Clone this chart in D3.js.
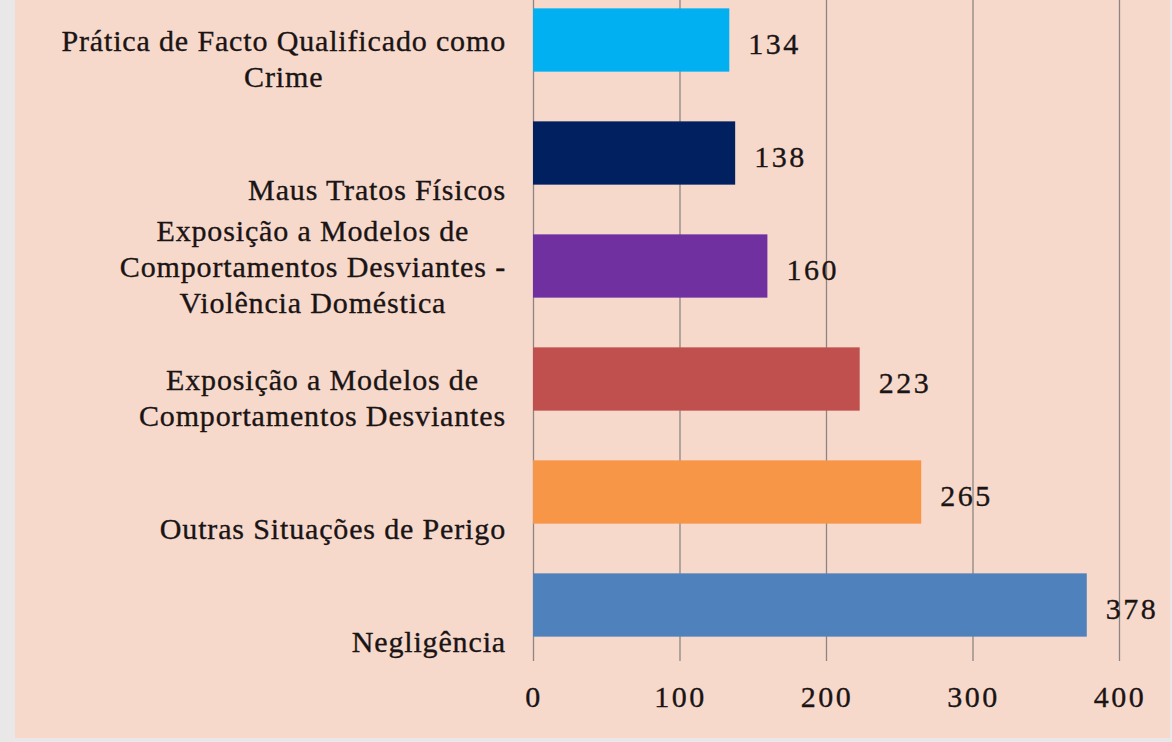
<!DOCTYPE html>
<html><head><meta charset="utf-8">
<script src="https://cdn.jsdelivr.net/npm/d3@7"></script>
<style>
html,body{margin:0;padding:0;background:#e9e7e7;overflow:hidden;}
svg{display:block;}
</style></head>
<body>
<script>
const categories = [
  ["Prática de Facto Qualificado como", "Crime"],
  ["Maus Tratos Físicos"],
  ["Exposição a Modelos de", "Comportamentos Desviantes -", "Violência Doméstica"],
  ["Exposição a Modelos de", "Comportamentos Desviantes"],
  ["Outras Situações de Perigo"],
  ["Negligência"]
];
const values = [134, 138, 160, 223, 265, 378];
const colors = ["#00b0f0", "#002060", "#7030a0", "#c0504d", "#f79646", "#4f81bd"];
const tickValues = [0, 100, 200, 300, 400];

const W = 1172, H = 742;
const svg = d3.select("body").append("svg").attr("width", W).attr("height", H);
svg.append("rect").attr("x", 15).attr("y", 0).attr("width", 1155).attr("height", 738).attr("fill", "#f7d9cc");

const FONT = "'Liberation Serif', serif";
const TXT = "#1a1414";
const x = d3.scaleLinear().domain([0, 400]).range([533, 1119]);
const y = d3.scaleBand().domain(d3.range(categories.length)).range([-16.5, 661.5]).paddingInner(0.44).paddingOuter(0.22);

// gridlines
svg.append("g").selectAll("line").data(tickValues).join("line")
  .attr("x1", d => x(d) + 0.5).attr("x2", d => x(d) + 0.5)
  .attr("y1", 0).attr("y2", 661)
  .attr("stroke", "#8d8581").attr("stroke-width", 1.3);

// bars
svg.append("g").selectAll("rect").data(values).join("rect")
  .attr("x", x(0)).attr("y", (d, i) => y(i))
  .attr("width", d => x(d) - x(0)).attr("height", y.bandwidth())
  .attr("fill", (d, i) => colors[i]);

// value labels
svg.append("g").selectAll("text").data(values).join("text")
  .attr("x", d => x(d) + 19).attr("y", (d, i) => y(i) + y.bandwidth() / 2 + 14)
  .attr("font-family", FONT).attr("font-size", 30).attr("letter-spacing", 2.5).attr("fill", TXT)
  .attr("stroke", TXT).attr("stroke-width", 0.35)
  .text(d => d);

// category labels: block right-aligned, lines centered within block, bottom-aligned
const lineH = 36;
const rightEdge = 506;
const cat = svg.append("g").attr("font-family", FONT).attr("font-size", 30).attr("letter-spacing", 0.85)
  .attr("fill", TXT).attr("stroke", TXT).attr("stroke-width", 0.35).attr("text-anchor", "middle");
categories.forEach((lines, i) => {
  const c = y(i) + y.bandwidth() / 2;
  const lastY = c + 47;
  const nodes = lines.map((t, j) => cat.append("text").attr("y", lastY - (lines.length - 1 - j) * lineH).text(t));
  const maxW = d3.max(nodes, n => n.node().getComputedTextLength());
  nodes.forEach(n => n.attr("x", rightEdge - maxW / 2));
});

// tick labels
svg.append("g").selectAll("text").data(tickValues).join("text")
  .attr("x", d => x(d) + 1).attr("y", 707).attr("text-anchor", "middle")
  .attr("font-family", FONT).attr("font-size", 30).attr("letter-spacing", 2.5).attr("fill", TXT)
  .attr("stroke", TXT).attr("stroke-width", 0.35)
  .text(d => d);
</script>
</body></html>
